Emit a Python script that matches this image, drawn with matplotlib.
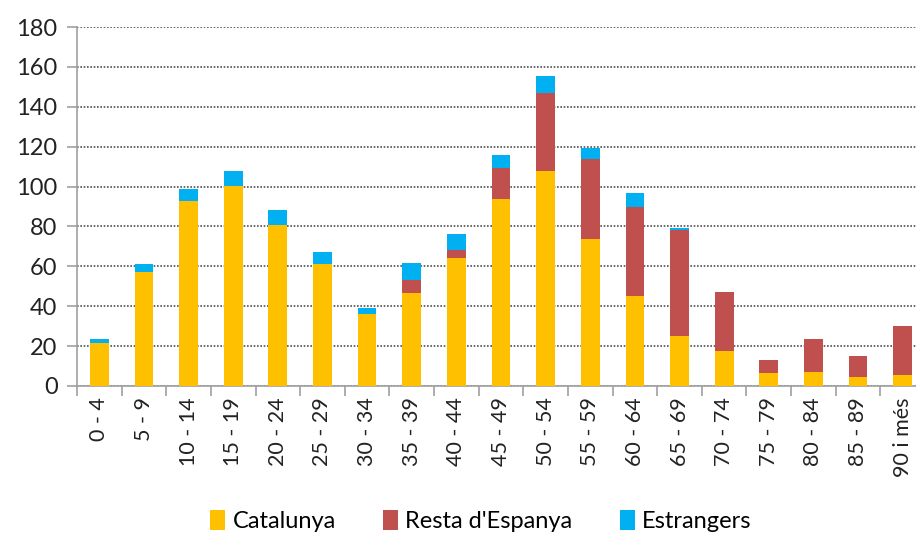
import matplotlib
matplotlib.use("Agg")
import matplotlib.pyplot as plt
import numpy as np

plt.rcParams['font.family'] = ['Lato', 'DejaVu Sans']

grups = ['0 - 4', '5 - 9', '10 - 14', '15 - 19', '20 - 24', '25 - 29', '30 - 34',
         '35 - 39', '40 - 44', '45 - 49', '50 - 54', '55 - 59', '60 - 64', '65 - 69',
         '70 - 74', '75 - 79', '80 - 84', '85 - 89', '90 i més']
catalunya = [21.5, 57, 93, 100.2, 80.8, 61, 36, 46.6, 64, 93.7, 108, 73.7, 45.3,
             25.2, 17.6, 6.6, 7.2, 4.7, 5.4]
resta = [0, 0, 0, 0, 0, 0, 0, 6.7, 4, 15.5, 39, 40, 44.7, 53, 29.4, 6.5, 16.2, 10.4, 24.5]
estrangers = [2.2, 4, 5.8, 7.6, 7.2, 6, 3, 8.2, 8.3, 6.5, 8.5, 5.8, 6.8, 1.2, 0, 0, 0, 0, 0]

c_cat = '#FFC000'
c_res = '#C0504D'
c_est = '#00B0F0'

fig = plt.figure(figsize=(9.16, 5.48), dpi=100)
ax = fig.add_axes([77 / 916, 1 - 386 / 548, 848 / 916, 359 / 548])

x = np.arange(len(grups))
cat = np.array(catalunya)
res = np.array(resta)
est = np.array(estrangers)
w = 0.42
ax.bar(x, cat, w, color=c_cat, label='Catalunya', zorder=3)
ax.bar(x, res, w, bottom=cat, color=c_res, label="Resta d'Espanya", zorder=3)
ax.bar(x, est, w, bottom=cat + res, color=c_est, label='Estrangers', zorder=3)

ax.set_xlim(-0.5, len(grups) - 0.5)
ax.set_ylim(0, 180)
ax.set_yticks(range(0, 181, 20))
ax.yaxis.grid(True, linestyle=(0, (1, 1)), color='#505050', linewidth=1.2, zorder=0)

ax.set_xticks(x)
ax.set_xticklabels(grups, rotation=90)
ax.set_xticks(np.arange(-0.5, len(grups), 1), minor=True)
ax.tick_params(axis='x', which='major', length=0, pad=8, labelsize=15.5, colors='#222222')
ax.tick_params(axis='x', which='minor', length=7, width=1.2, color='#A0A0A0')
ax.tick_params(axis='y', length=7, width=1.2, color='#A0A0A0', labelsize=17, pad=7,
               labelcolor='#222222')

for s in ['top', 'right']:
    ax.spines[s].set_visible(False)
for s in ['left', 'bottom']:
    ax.spines[s].set_color('#A0A0A0')
    ax.spines[s].set_linewidth(1.2)

fig.legend(loc='lower center', bbox_to_anchor=(0.525, -0.01), ncol=3, frameon=False,
           fontsize=17, handlelength=0.65, handleheight=0.9, handletextpad=0.3,
           columnspacing=2.0)

fig.savefig('out.png', dpi=100)
